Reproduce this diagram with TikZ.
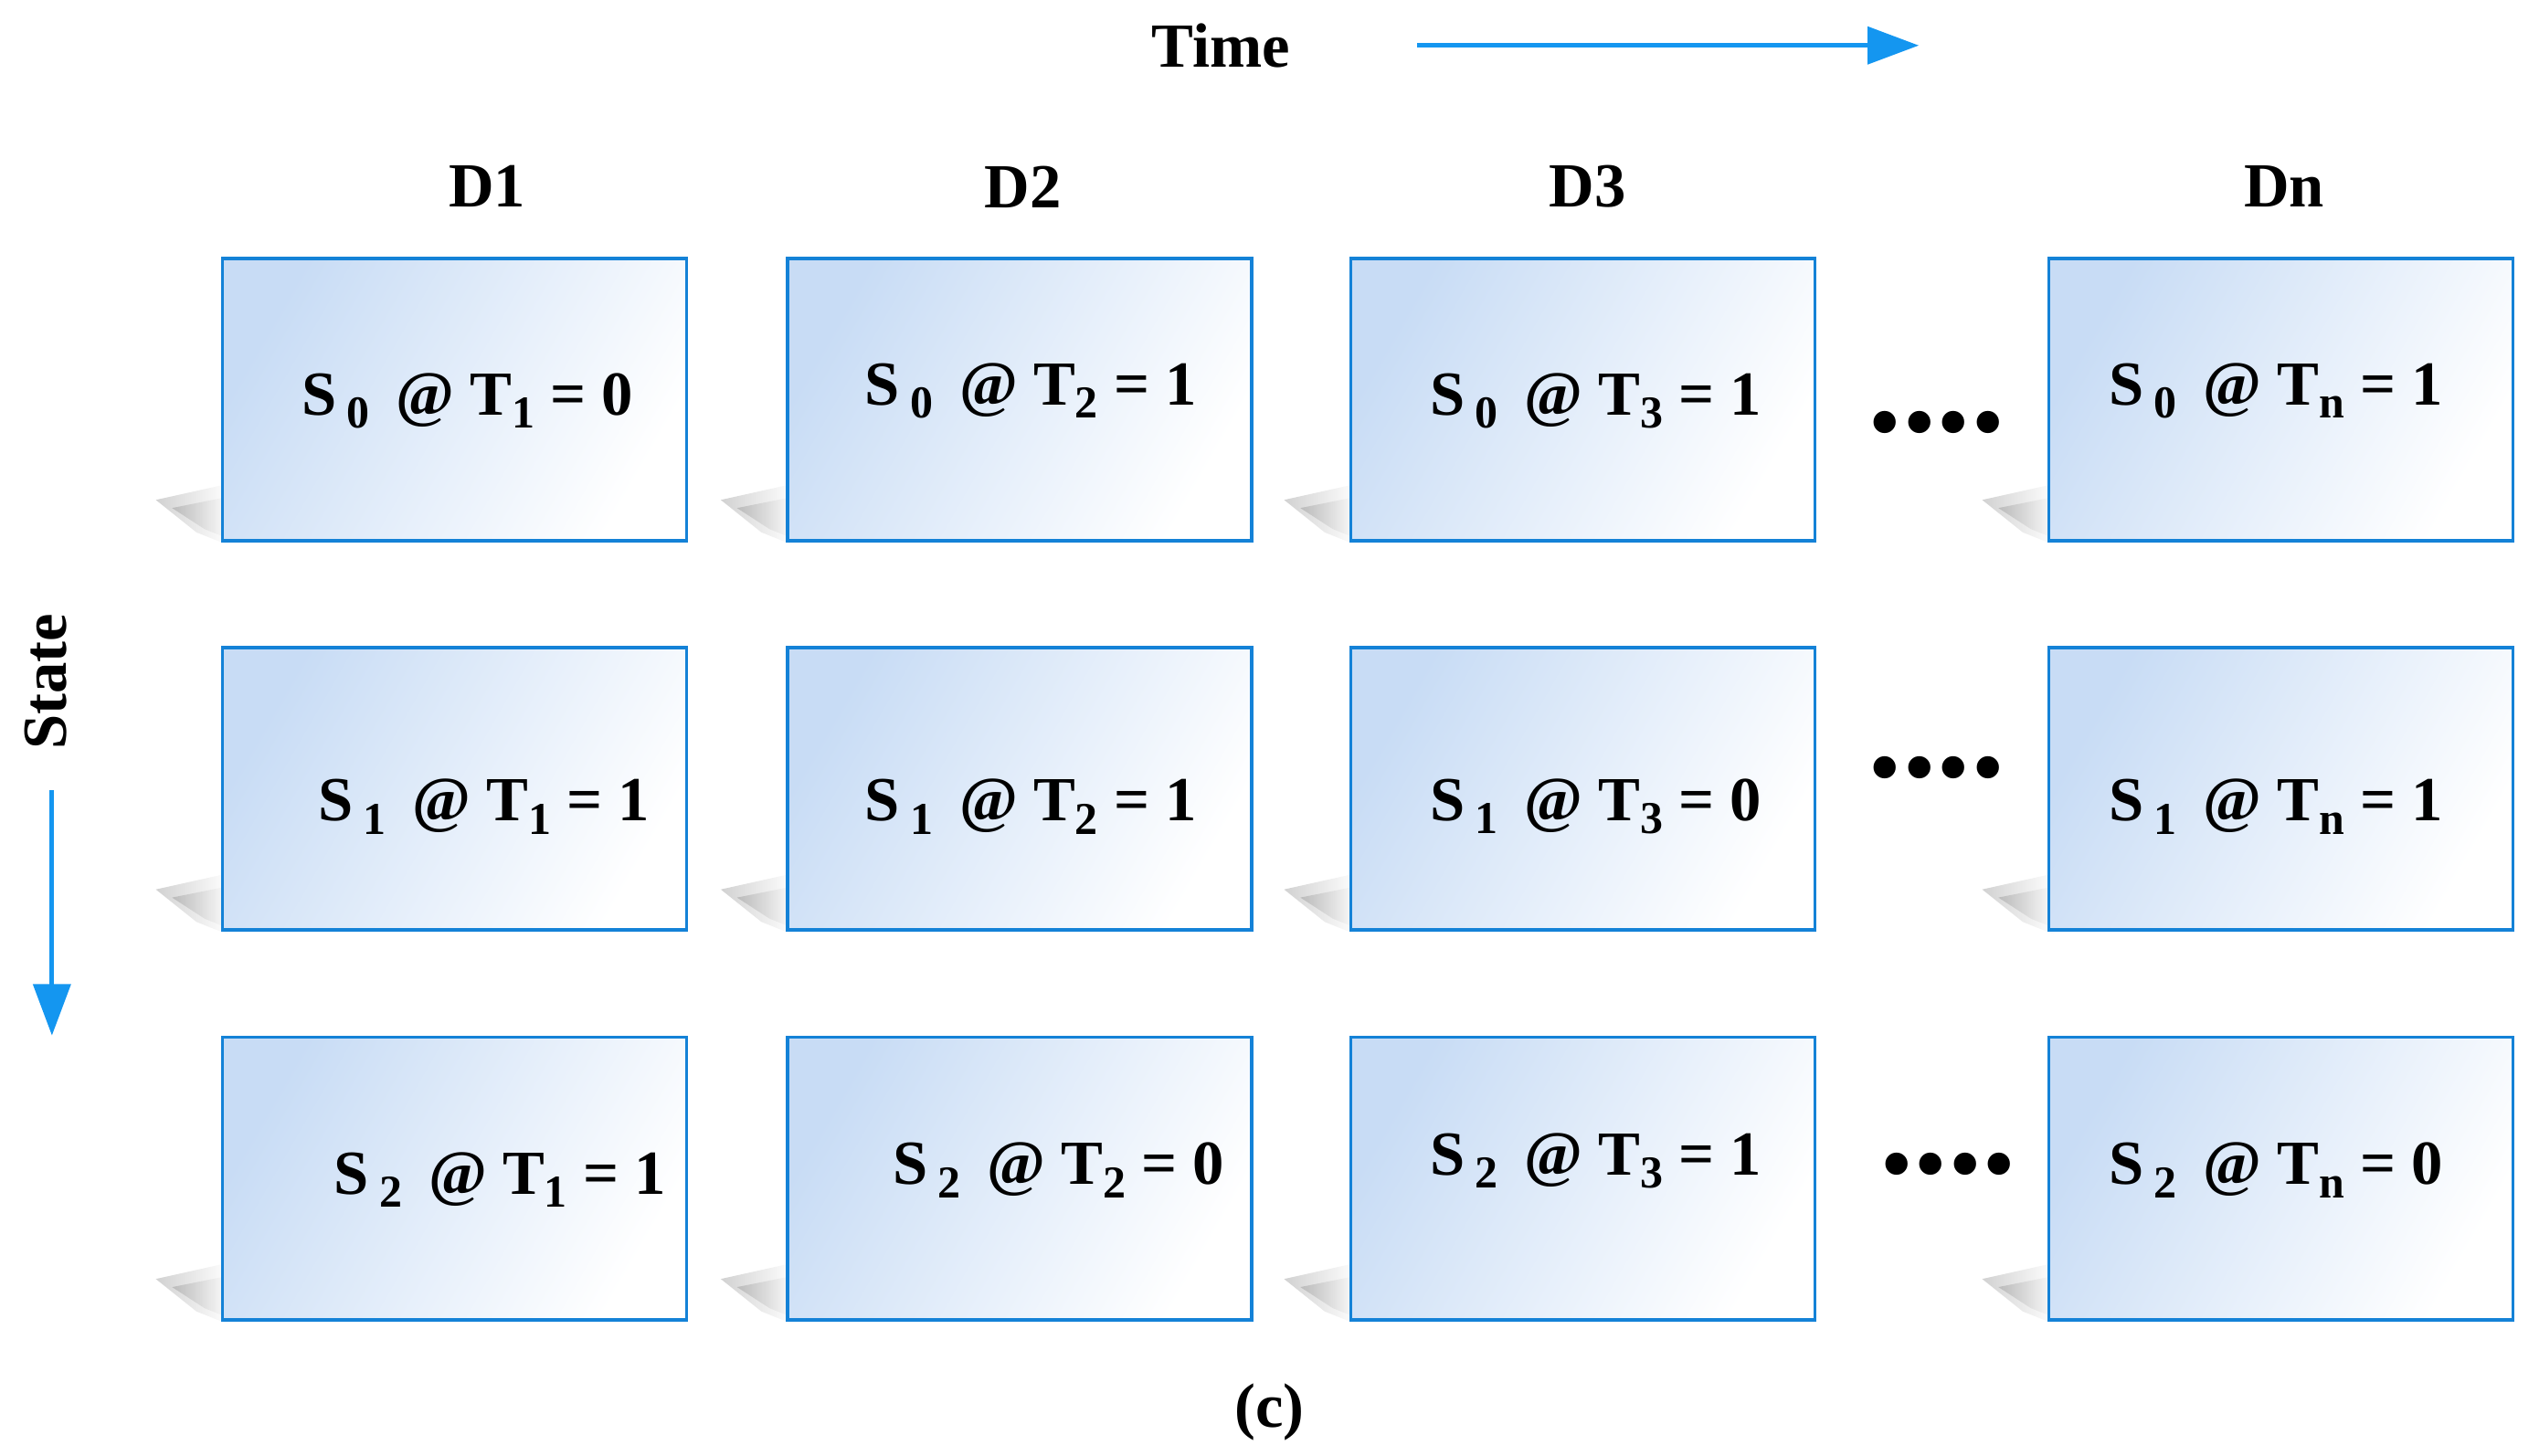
\documentclass[tikz,border=0pt]{standalone}
\usepackage{fontspec}
\setmainfont{Liberation Serif}
\usetikzlibrary{arrows.meta,fadings}
\newcommand{\mysub}[1]{\raisebox{-0.45ex}{\fontsize{16}{16}\selectfont #1}}
\definecolor{bord}{RGB}{20,130,215}
\definecolor{fillb}{RGB}{200,220,245}
\definecolor{arrc}{RGB}{20,150,240}
\begin{document}
\begin{tikzpicture}[x=0.02cm,y=-0.02cm,
  box/.style={draw=bord, line width=1.2pt, left color=fillb, right color=white, shading angle=60, minimum width=5.72cm, minimum height=3.48cm, anchor=north west, inner sep=0},
  lbl/.style={font=\bfseries\fontsize{22}{26}\selectfont},
  arr/.style={draw=arrc, line width=1.6pt, -{Triangle[length=18pt,width=13pt]}},
  dots/.style={font=\bfseries\fontsize{48}{48}\selectfont}]
\useasboundingbox (0,0) rectangle (1564,897);
\node[lbl] (time) at (752,28) {Time};
\coordinate (ta) at (873,28); \coordinate (tb) at (1182,28);
\draw[arr] (ta) -- (tb);
\node[lbl,rotate=90] (state) at (28,420) {State};
\coordinate (sa) at (32,487); \coordinate (sb) at (32,638);
\draw[arr] (sa) -- (sb);
\node[lbl] (c) at (782,870) {(c)};
\foreach \x/\n/\d in {300/D1/d1,630/D2/d2,978/D3/d3,1407/Dn/dn}
  \node[lbl] (\d) at (\x,115) {\n};
\foreach \x/\c in {136/a,484/b,831/c,1261/d}
 \foreach \y/\r in {158/1,398/2,638/3}{
  \fill[black,opacity=0.18,path fading=east] (\x-40,\y+150) -- (\x+5,\y+140) -- (\x+5,\y+178) -- (\x-15,\y+170) -- cycle;
  \fill[black,opacity=0.15,path fading=east] (\x-30,\y+155) -- (\x+5,\y+148) -- (\x+5,\y+174) -- (\x-10,\y+168) -- cycle;
  \node[box] (b\c\r) at (\x,\y) {};
 }
\node[lbl] (l1) at (288,247) {S\,\mysub{0}\, @ T\mysub{1} = 0};
\node[lbl] (l2) at (635,241) {S\,\mysub{0}\, @ T\mysub{2} = 1};
\node[lbl] (l3) at (983,247) {S\,\mysub{0}\, @ T\mysub{3} = 1};
\node[lbl] (l4) at (1402,241) {S\,\mysub{0}\, @ T\mysub{n} = 1};
\node[lbl] (l5) at (298,497) {S\,\mysub{1}\, @ T\mysub{1} = 1};
\node[lbl] (l6) at (635,497) {S\,\mysub{1}\, @ T\mysub{2} = 1};
\node[lbl] (l7) at (983,497) {S\,\mysub{1}\, @ T\mysub{3} = 0};
\node[lbl] (l8) at (1402,497) {S\,\mysub{1}\, @ T\mysub{n} = 1};
\node[lbl] (l9) at (308,727) {S\,\mysub{2}\, @ T\mysub{1} = 1};
\node[lbl] (l10) at (652,721) {S\,\mysub{2}\, @ T\mysub{2} = 0};
\node[lbl] (l11) at (983,715) {S\,\mysub{2}\, @ T\mysub{3} = 1};
\node[lbl] (l12) at (1402,721) {S\,\mysub{2}\, @ T\mysub{n} = 0};
\node[dots] (e1) at (1193,260) {....};
\node[dots] (e2) at (1193,473) {....};
\node[dots] (e3) at (1200,717) {....};
\end{tikzpicture}
\end{document}
